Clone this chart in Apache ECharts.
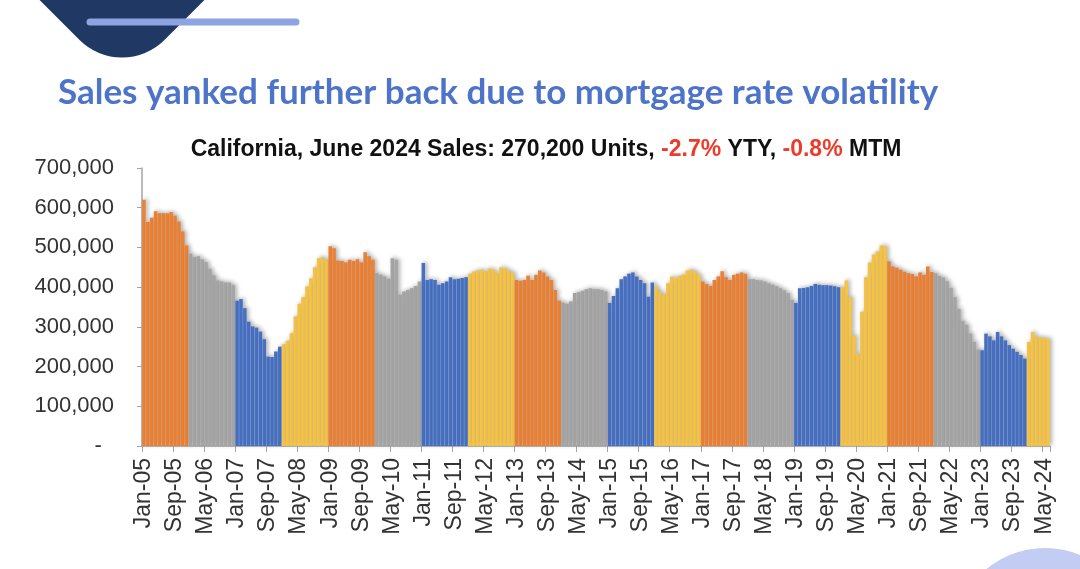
<!DOCTYPE html>
<html><head><meta charset="utf-8">
<script src="https://cdn.jsdelivr.net/npm/echarts@6/dist/echarts.min.js"></script>
<style>html,body{margin:0;padding:0;background:#fff}#c{width:1080px;height:569px}</style>
</head><body><div id="c"></div>
<script>
// ---- data (California existing home sales, SAAR units) ----
const years = [2005,2006,2007,2008,2009,2010,2011,2012,2013,2014,2015,2016,2017,2018,2019,2020,2021,2022,2023,2024];
const monthNames = ['Jan','Feb','Mar','Apr','May','Jun','Jul','Aug','Sep','Oct','Nov','Dec'];
const sales2005 = [620000,564000,575000,591000,586000,586000,586000,589000,580000,565000,540000,505000];
const sales2006 = [484000,476000,478000,470000,463000,446000,430000,417000,414000,412000,412000,405000];
const sales2007 = [366000,370000,347000,313000,301000,298000,288000,269000,225000,224000,238000,250000];
const sales2008 = [256000,265000,284000,326000,358000,375000,402000,422000,450000,473000,475000,469000];
const sales2009 = [503000,498000,467000,466000,462000,469000,466000,470000,462000,488000,478000,469000];
const sales2010 = [435000,431000,427000,421000,473000,469000,381000,389000,393000,397000,403000,414000];
const sales2011 = [461000,418000,420000,418000,406000,410000,414000,425000,420000,421000,423000,425000];
const sales2012 = [434000,439000,442000,444000,440000,447000,444000,435000,450000,448000,442000,437000];
const sales2013 = [418000,416000,418000,429000,418000,431000,442000,437000,427000,418000,393000,366000];
const sales2014 = [361000,358000,364000,385000,387000,391000,395000,397000,395000,395000,393000,389000];
const sales2015 = [360000,378000,397000,420000,427000,434000,437000,427000,418000,410000,376000,412000];
const sales2016 = [402000,389000,381000,410000,427000,423000,429000,431000,442000,444000,440000,431000];
const sales2017 = [414000,408000,403000,418000,427000,440000,425000,418000,431000,434000,437000,434000];
const sales2018 = [420000,420000,418000,417000,414000,410000,406000,402000,397000,392000,385000,368000];
const sales2019 = [360000,397000,398000,400000,403000,408000,406000,405000,405000,404000,402000,400000];
const sales2020 = [399000,417000,375000,278000,232000,338000,425000,462000,482000,490000,505000,503000];
const sales2021 = [465000,452000,449000,444000,439000,435000,433000,427000,437000,431000,452000,438000];
const sales2022 = [435000,428000,424000,415000,398000,375000,345000,315000,305000,283000,262000,243000];
const sales2023 = [241000,283000,276000,266000,287000,276000,266000,254000,245000,237000,229000,220000];
const sales2024 = [262000,287000,275000,274000,272400,270200];
const salesByYear = [sales2005,sales2006,sales2007,sales2008,sales2009,sales2010,sales2011,sales2012,sales2013,sales2014,
  sales2015,sales2016,sales2017,sales2018,sales2019,sales2020,sales2021,sales2022,sales2023,sales2024];
const yearColors = ['#EC8033','#A5A5A5','#4570C4','#F6C343'];
const titleText = 'Sales yanked further back due to mortgage rate volatility';
const subtitleText = '{b|California, June 2024 Sales: 270,200 Units, }{r|-2.7%}{b| YTY, }{r|-0.8%}{b| MTM}';

// ---- build category axis + series from the arrays ----
const categories = [];
const values = [];
const yearIndex = [];
salesByYear.forEach((arr, yi) => {
  arr.forEach((v, mi) => {
    categories.push(monthNames[mi] + '-' + String(years[yi]).slice(2));
    values.push(v);
    yearIndex.push(yi);
  });
});

const chart = echarts.init(document.getElementById('c'), null, {renderer: 'canvas'});
chart.setOption({
  animation: false,
  backgroundColor: '#ffffff',
  grid: {left: 142, right: 30, top: 168, bottom: 123, containLabel: false},
  xAxis: {
    type: 'category',
    data: categories,
    boundaryGap: true,
    axisLine: {show: true, lineStyle: {color: '#A6A6A6', width: 1.5}},
    axisTick: {show: true, interval: 7, length: 6, alignWithLabel: false, lineStyle: {color: '#A6A6A6'}},
    axisLabel: {interval: 7, rotate: 90, margin: 12, color: '#333333', fontFamily: 'Liberation Sans', fontSize: 23},
    splitLine: {show: false}
  },
  yAxis: {
    type: 'value',
    min: 0, max: 700000, interval: 100000,
    axisLine: {show: true, lineStyle: {color: '#A6A6A6', width: 1.5}},
    axisTick: {show: true, length: 5, lineStyle: {color: '#A6A6A6'}},
    splitLine: {show: false},
    axisLabel: {
      margin: 28, color: '#333333', fontFamily: 'Liberation Sans', fontSize: 22,
      formatter: v => v === 0 ? '-  ' : v.toLocaleString('en-US')
    }
  },
  series: [{
    type: 'bar',
    data: values,
    barCategoryGap: '10%',
    itemStyle: {
      color: p => yearColors[yearIndex[p.dataIndex] % 4],
      shadowColor: 'rgba(0,0,0,0.35)', shadowBlur: 4, shadowOffsetX: 2, shadowOffsetY: -1
    },
    emphasis: {disabled: true},
    silent: true
  }],
  graphic: [
    {type: 'rect', x: 122, y: -59, rotation: Math.PI / 4, originX: 0, originY: 0,
     shape: {x: -100, y: -100, width: 200, height: 200, r: 60}, style: {fill: '#1F3864'}, z: 1},
    {type: 'line', shape: {x1: 90, y1: 22, x2: 296, y2: 22}, style: {stroke: '#8DA4E0', lineWidth: 7, lineCap: 'round'}, z: 2},
    {type: 'circle', shape: {cx: 1045, cy: 640, r: 92}, style: {fill: '#C3CCF2'}, z: 1},
    {type: 'text', x: 58, y: 93, style: {text: titleText, fill: '#4D74C8', font: 'bold 35px Lato', textVerticalAlign: 'middle', textAlign: 'left'}, z: 3},
    {type: 'text', x: 546, y: 150, style: {
      text: subtitleText, textAlign: 'center', textVerticalAlign: 'middle',
      rich: {
        b: {fill: '#111111', font: 'bold 23px "Liberation Sans"'},
        r: {fill: '#EE3A2A', font: 'bold 23px "Liberation Sans"'}
      }
    }, z: 3}
  ]
});
</script></body></html>
